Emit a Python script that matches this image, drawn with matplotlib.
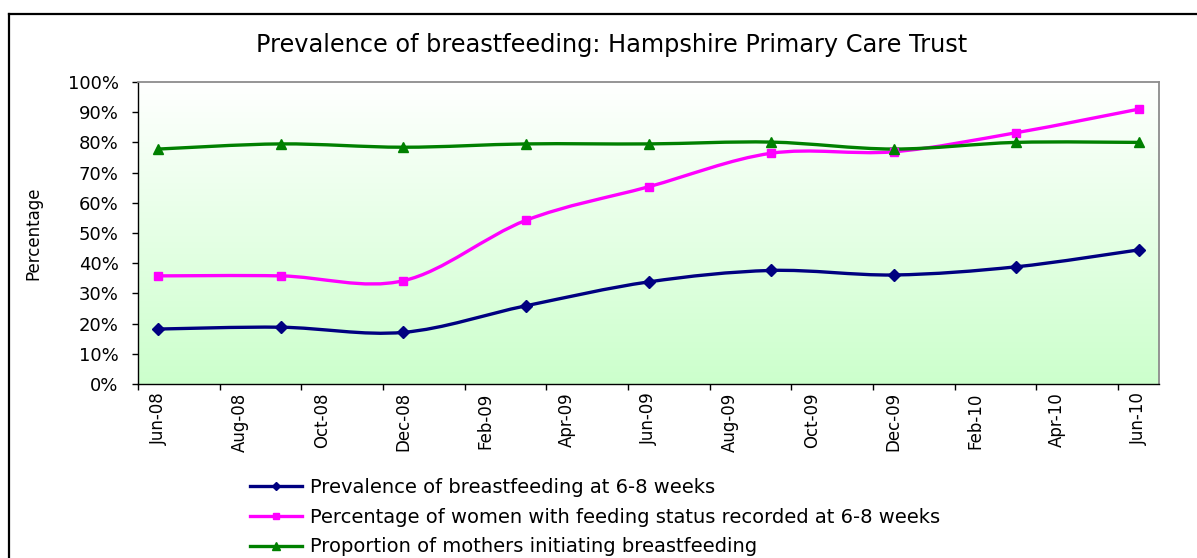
import numpy as np
import matplotlib
matplotlib.use('Agg')
import matplotlib.pyplot as plt
from matplotlib.path import Path
from matplotlib.patches import PathPatch
from matplotlib.lines import Line2D
from matplotlib.colors import LinearSegmentedColormap

# ---- data ----
periods = ['Jun-08', 'Sep-08', 'Dec-08', 'Mar-09', 'Jun-09', 'Sep-09', 'Dec-09', 'Mar-10', 'Jun-10']
period_months = [0, 3, 6, 9, 12, 15, 18, 21, 24]   # months since Jun-08
prevalence = [18.2, 18.8, 17.1, 25.9, 33.8, 37.6, 36.1, 38.8, 44.4]
recorded = [35.8, 35.8, 34.2, 54.2, 65.3, 76.4, 76.9, 83.2, 91.0]
initiating = [77.8, 79.5, 78.4, 79.5, 79.5, 80.1, 77.8, 80.0, 80.0]
month_labels = ['Jun-08', 'Aug-08', 'Oct-08', 'Dec-08', 'Feb-09', 'Apr-09', 'Jun-09',
                'Aug-09', 'Oct-09', 'Dec-09', 'Feb-10', 'Apr-10', 'Jun-10']
series_names = ['Prevalence of breastfeeding at 6-8 weeks',
                'Percentage of women with feeding status recorded at 6-8 weeks',
                'Proportion of mothers initiating breastfeeding']
series_colors = ['#000080', '#FF00FF', '#008000']
series_markers = ['D', 's', '^']
title = 'Prevalence of breastfeeding: Hampshire Primary Care Trust'

W, H = 1197, 558
fig = plt.figure(figsize=(W / 100, H / 100), dpi=100)
fig.patch.set_facecolor('white')

# outer chart border (top and left visible)
fig.add_artist(Line2D([9 / W, 9 / W], [0, 1 - 14 / H], color='black', lw=1.6,
                      transform=fig.transFigure))
fig.add_artist(Line2D([9 / W, 1], [1 - 14 / H, 1 - 14 / H], color='black', lw=1.6,
                      transform=fig.transFigure))

L, R, T, B = 138, 1159, 82, 384
ax = fig.add_axes([L / W, 1 - B / H, (R - L) / W, (B - T) / H])

n_months = 25
ax.set_xlim(0, n_months)
ax.set_ylim(0, 100)

# gradient background white -> light green
cmap = LinearSegmentedColormap.from_list('bg', ['#CCFFCC', '#FFFFFF'])
grad = np.linspace(0, 1, 256).reshape(-1, 1)
ax.imshow(grad, extent=[0, n_months, 0, 100], origin='lower', aspect='auto',
          cmap=cmap, zorder=0, interpolation='bicubic')


def smooth_path(xs, ys):
    pts = np.column_stack([xs, ys]).astype(float)
    n = len(pts)
    verts = [pts[0]]
    codes = [Path.MOVETO]
    for i in range(n - 1):
        p0 = pts[i - 1] if i > 0 else pts[i]
        p1 = pts[i]
        p2 = pts[i + 1]
        p3 = pts[i + 2] if i + 2 < n else pts[i + 1]
        c1 = p1 + (p2 - p0) / 6.0
        c2 = p2 - (p3 - p1) / 6.0
        verts += [c1, c2, p2]
        codes += [Path.CURVE4] * 3
    return Path(verts, codes)


xpos = np.array(period_months) + 0.5
handles = []
msizes = [6, 6, 7.5]
for vals, col, mk, ms, name in zip([prevalence, recorded, initiating], series_colors,
                                   series_markers, msizes, series_names):
    patch = PathPatch(smooth_path(xpos, vals), fill=False, edgecolor=col, lw=2.4,
                      zorder=3, capstyle='round', joinstyle='round')
    ax.add_patch(patch)
    ax.plot(xpos, vals, linestyle='none', marker=mk, markersize=ms, color=col,
            markeredgecolor=col, zorder=4, clip_on=False)
    handles.append(Line2D([], [], color=col, lw=2.4, marker=mk, markersize=ms * 0.75,
                          markeredgecolor=col))

# axes styling
for s in ['top', 'right']:
    ax.spines[s].set_color('#8C8C8C')
    ax.spines[s].set_linewidth(1.3)
for s in ['left', 'bottom']:
    ax.spines[s].set_color('black')
    ax.spines[s].set_linewidth(1.0)

ax.set_yticks(np.arange(0, 101, 10))
ax.set_yticklabels([f'{v}%' for v in range(0, 101, 10)])
ax.tick_params(axis='y', direction='out', length=4, width=1, pad=10, labelsize=13,
               colors='black')

ax.set_xticks(np.arange(0, n_months, 2))
ax.set_xticklabels([])
ax.set_xticks(np.arange(0, n_months, 2) + 0.5, minor=True)
ax.set_xticklabels(month_labels, minor=True, rotation=90, fontsize=12, va='top',
                   ha='center')
ax.tick_params(axis='x', which='major', direction='out', length=4, width=1)
ax.tick_params(axis='x', which='minor', length=0, pad=6)

ax.set_ylabel('Percentage', fontsize=12)
ax.yaxis.set_label_coords((42 - L) / (R - L), 0.5)

fig.text(612 / W, 1 - 45 / H, title, ha='center', va='center', fontsize=17.3)

leg = fig.legend(handles, series_names, loc='upper left',
                 bbox_to_anchor=(250 / W, 1 - 478 / H), frameon=False, fontsize=14,
                 handlelength=2.68, handletextpad=0.38, labelspacing=0.55,
                 borderpad=0, borderaxespad=0)

fig.savefig('out.png', dpi=100)
